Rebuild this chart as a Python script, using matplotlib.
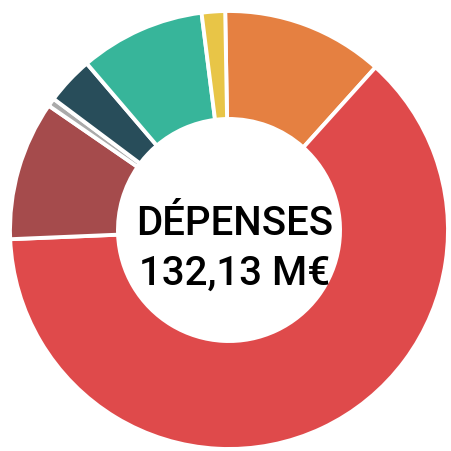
import matplotlib
matplotlib.use("Agg")
import matplotlib.pyplot as plt

# postes de depenses (M€)
postes = ["Orange", "Rouge", "Brun", "Gris", "Bleu nuit", "Vert", "Jaune"]
montants = [15.78, 82.80, 13.58, 0.81, 4.66, 12.22, 2.28]
couleurs = ["#E58041", "#DF4A4B", "#A54B4C", "#AAAAAA", "#284D5A", "#37B59A", "#E8C547"]
titre = "DÉPENSES"
total_txt = "132,13 M€"

W, H = 451, 452
cx, cy, R = 229, 231, 219

fig = plt.figure(figsize=(W / 100, H / 100), dpi=100)
ax = fig.add_axes([0, 0, 1, 1])
ax.pie(montants, colors=couleurs, startangle=91, counterclock=False, radius=1,
       wedgeprops=dict(width=0.493, edgecolor="white", linewidth=2.8))
ax.set_xlim(-cx / R, (W - cx) / R)
ax.set_ylim(-(H - cy) / R, cy / R)
ax.set_aspect("auto")
ax.axis("off")

ax.text(0.025, -0.018, titre, ha="center", va="baseline", fontsize=29,
        family="Roboto", weight="medium", color="black")
ax.text(0.025, -0.247, total_txt, ha="center", va="baseline", fontsize=29,
        family="Roboto", weight="medium", color="black")

fig.savefig("out.png", dpi=100)
